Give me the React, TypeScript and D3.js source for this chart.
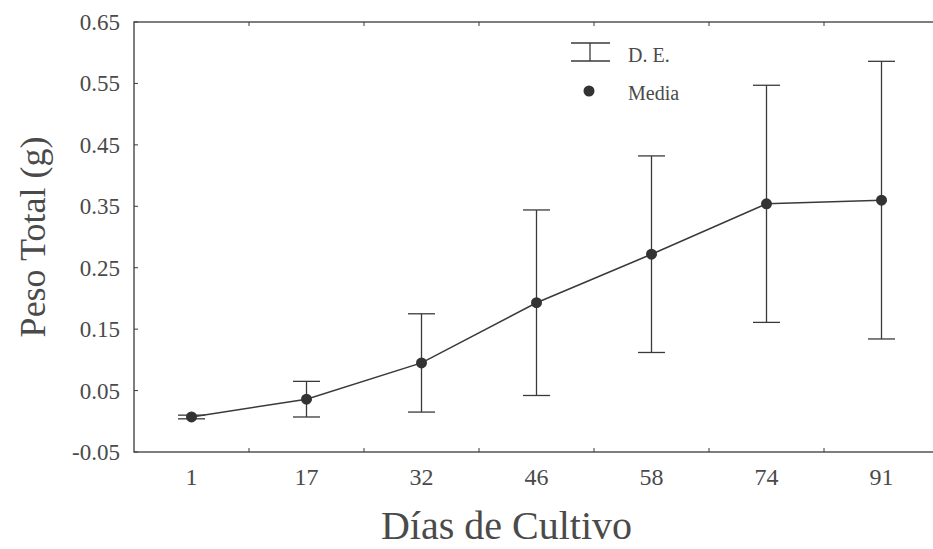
import * as d3 from "d3";
import { useEffect } from "react";

// días de cultivo y peso total (g)
const dias = ["1", "17", "32", "46", "58", "74", "91"];
const media = [0.007, 0.036, 0.095, 0.193, 0.272, 0.354, 0.36];
const de = [0.003, 0.029, 0.08, 0.151, 0.16, 0.193, 0.226];
const yTicks = [-0.05, 0.05, 0.15, 0.25, 0.35, 0.45, 0.55, 0.65];

const W = 933, H = 549;
const font = "'Liberation Serif', 'Times New Roman', serif";
const ink = "#3a3a3a";
const txt = "#4a4a4a";

const App = () => {
  useEffect(() => {
    document.body.style.margin = "0";
  }, []);

  const x = d3.scaleBand().domain(dias).range([134, 939]).padding(0);
  const y = d3.scaleLinear().domain([-0.05, 0.65]).range([452, 22]);
  const cx = (d) => x(d) + x.bandwidth() / 2;

  const line = d3.line()
    .x((d, i) => cx(dias[i]))
    .y((d) => y(d));

  const top = y.range()[1], bot = y.range()[0];
  const left = x.range()[0], right = x.range()[1];
  const cap = 13.5;
  const boundaries = dias.slice(1).map((d) => x(d));

  return (
    <svg width={W} height={H} style={{ display: "block", background: "#fff" }}>
      {/* marco */}
      <rect x={left} y={top} width={right - left} height={bot - top}
        fill="none" stroke={ink} strokeWidth={1.3} />

      {/* ticks eje y */}
      {yTicks.map((t) => (
        <g key={t}>
          <line x1={left} x2={left + 4} y1={y(t)} y2={y(t)} stroke={ink} strokeWidth={1} />
          <text x={120} y={y(t) + 8} textAnchor="end" fontFamily={font}
            fontSize={23} fill={txt}>{t.toFixed(2)}</text>
        </g>
      ))}

      {/* ticks eje x, entre categorías */}
      {boundaries.map((b, i) => (
        <g key={i}>
          <line x1={b} x2={b} y1={bot} y2={bot - 4} stroke={ink} strokeWidth={1} />
          <line x1={b} x2={b} y1={top} y2={top + 4} stroke={ink} strokeWidth={1} />
        </g>
      ))}
      {dias.map((d) => (
        <text key={d} x={cx(d)} y={485} textAnchor="middle" fontFamily={font}
          fontSize={24} fill={txt}>{d}</text>
      ))}

      {/* barras de desviación */}
      {dias.map((d, i) => {
        const hi = y(media[i] + de[i]), lo = y(media[i] - de[i]);
        const c = cx(d);
        return (
          <g key={d} stroke={ink} strokeWidth={1.3}>
            <line x1={c} x2={c} y1={hi} y2={lo} />
            <line x1={c - cap} x2={c + cap} y1={hi} y2={hi} />
            <line x1={c - cap} x2={c + cap} y1={lo} y2={lo} />
          </g>
        );
      })}

      <path d={line(media)} fill="none" stroke={ink} strokeWidth={1.5} />
      {dias.map((d, i) => (
        <circle key={d} cx={cx(d)} cy={y(media[i])} r={5.5} fill="#333" />
      ))}

      {/* leyenda */}
      <g stroke={ink} strokeWidth={1.3}>
        <line x1={571} x2={610} y1={43} y2={43} />
        <line x1={571} x2={610} y1={61} y2={61} />
        <line x1={590} x2={590} y1={43} y2={61} />
      </g>
      <text x={628} y={62} fontFamily={font} fontSize={20} fill={txt}>D. E.</text>
      <circle cx={589} cy={91} r={5.5} fill="#333" />
      <text x={628} y={100} fontFamily={font} fontSize={20} fill={txt}>Media</text>

      {/* títulos */}
      <text transform={`translate(45,${(top + bot) / 2}) rotate(-90)`} textAnchor="middle"
        fontFamily={font} fontSize={36} fill={txt}>Peso Total (g)</text>
      <text x={(left + right) / 2 - 30} y={539} textAnchor="middle" fontFamily={font}
        fontSize={40} fill={txt}>Días de Cultivo</text>
    </svg>
  );
};

export default App;
